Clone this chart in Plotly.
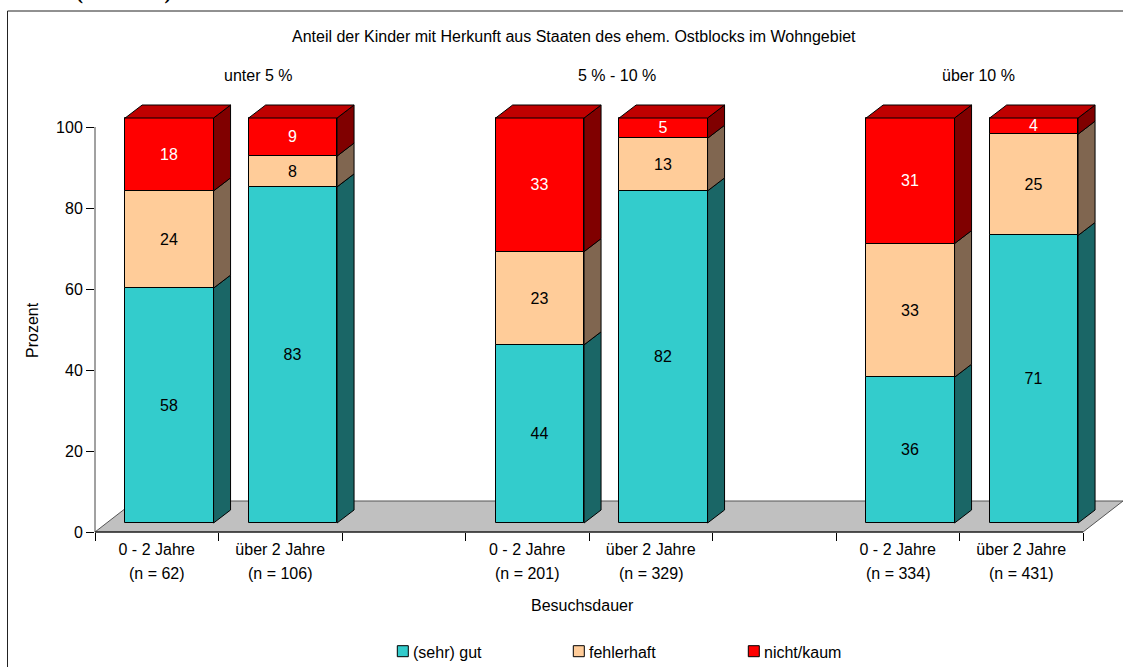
import plotly.graph_objects as go

slots = [0, 1, 3, 4, 6, 7]
durations = ["0 - 2 Jahre", "über 2 Jahre", "0 - 2 Jahre", "über 2 Jahre", "0 - 2 Jahre", "über 2 Jahre"]
sample_sizes = ["(n = 62)", "(n = 106)", "(n = 201)", "(n = 329)", "(n = 334)", "(n = 431)"]
groups = ["unter 5 %", "5 % - 10 %", "über 10 %"]
sehr_gut = [58, 83, 44, 82, 36, 71]
fehlerhaft = [24, 7.6, 23, 13, 33, 25]
nicht_kaum = [18, 9.4, 33, 5, 31, 4]

W, H = 1123, 667
AX_L, AX_R, AX_T, AX_B = 95, 1083, 127, 532   # pixel box of the 0-8 / 0-100 axes
TOP = 100                                     # plot area reaches above it for the 3D depth
FS = 16
FONT = "Liberation Sans, Arial, sans-serif"

X_PX, Y_PX = (AX_R - AX_L) / 8, (AX_B - AX_T) / 100
XMAX, YMAX = (W - AX_L) / X_PX, (AX_B - TOP) / Y_PX
PW, PH = W - AX_L, AX_B - TOP

# pseudo-3D projection, in axis units
FRONT_DX, FRONT_DY = 12.6 / X_PX, 9.0 / Y_PX
DEPTH_DX, DEPTH_DY = 17 / X_PX, 13 / Y_PX
BAR_W = 88.4 / X_PX

series = [
    ("(sehr) gut", sehr_gut, "#33CCCC", "#1A6666", "black", 397.3),
    ("fehlerhaft", fehlerhaft, "#FFCC99", "#806650", "black", 573.3),
    ("nicht/kaum", nicht_kaum, "#FF0000", "#800000", "white", 748.3),
]

def px(x):
    return (x - AX_L) / PW

def py(y):
    return (AX_B - y) / PH

fig = go.Figure()
base = [0] * len(slots)
centers = [s + 0.5 for s in slots]
for name, vals, col, side, tcol, _ in series:
    fig.add_trace(go.Bar(
        x=[c + FRONT_DX for c in centers], y=vals,
        base=[b + FRONT_DY for b in base], width=BAR_W, name=name,
        marker=dict(color=col, line=dict(color="black", width=1)),
        text=[str(round(v)) for v in vals], textposition="inside", insidetextanchor="middle",
        textangle=0, constraintext="none",
        insidetextfont=dict(family=FONT, size=FS, color=tcol),
    ))
    sx, sy = [], []
    for c, b, v in zip(centers, base, vals):
        x1 = c + FRONT_DX + BAR_W / 2
        y0, y1 = b + FRONT_DY, b + v + FRONT_DY
        sx += [x1, x1 + DEPTH_DX, x1 + DEPTH_DX, x1, x1, None]
        sy += [y0, y0 + DEPTH_DY, y1 + DEPTH_DY, y1, y0, None]
    fig.add_trace(go.Scatter(x=sx, y=sy, mode="lines", fill="toself", fillcolor=side,
                             line=dict(color="black", width=1), showlegend=False,
                             hoverinfo="skip"))
    base = [b + v for b, v in zip(base, vals)]

tx, ty = [], []
for c, b in zip(centers, base):
    x0 = c + FRONT_DX - BAR_W / 2
    x1 = c + FRONT_DX + BAR_W / 2
    y0 = b + FRONT_DY
    tx += [x0, x1, x1 + DEPTH_DX, x0 + DEPTH_DX, x0, None]
    ty += [y0, y0, y0 + DEPTH_DY, y0 + DEPTH_DY, y0, None]
fig.add_trace(go.Scatter(x=tx, y=ty, mode="lines", fill="toself", fillcolor="#BF0000",
                         line=dict(color="black", width=1), showlegend=False,
                         hoverinfo="skip"))

fx, fy = px(AX_R), py(AX_T)
fdx, fdy = 40 / PW, 31 / PH
shapes = [
    dict(type="rect", xref="paper", yref="paper", layer="below",
         x0=px(7.5), x1=px(1140), y0=py(690), y1=py(11),
         line=dict(color="#222222", width=1), fillcolor="white"),
    dict(type="path", xref="paper", yref="paper", layer="below",
         path=f"M 0 0 L {fx} 0 L {fx+fdx} {fdy} L {fdx} {fdy} Z",
         fillcolor="#C0C0C0", line=dict(color="#555555", width=1)),
    dict(type="line", xref="paper", yref="paper", x0=0, x1=fx, y0=0, y1=0,
         line=dict(color="black", width=1)),
    dict(type="line", xref="paper", yref="paper", x0=0, x1=0, y0=0, y1=fy,
         line=dict(color="#444444", width=1)),
]

def label(text, x, y, anchor="center", **kw):
    return dict(text=text, xref="paper", yref="paper", x=px(x), y=py(y), showarrow=False,
                xanchor=anchor, yanchor="middle",
                font=dict(family=FONT, size=FS, color="black"), **kw)

anns = [
    label("Anteil der Kinder mit Herkunft aus Staaten des ehem. Ostblocks im Wohngebiet", 574, 36),
    label(groups[0], 258, 76), label(groups[1], 617, 76), label(groups[2], 978, 76),
    label("Besuchsdauer", 582, 605),
    label("Prozent", 32, 330, textangle=-90),
]
for c, n in zip(centers, sample_sizes):
    anns.append(label(n, AX_L + c * X_PX, 573))
anns.append(dict(text="<b>in % (n = 1.463)</b>", xref="paper", yref="paper", x=px(25), y=py(6),
                 xanchor="left", yanchor="bottom", showarrow=False,
                 font=dict(family="Liberation Serif, serif", size=21, color="black")))

# legend row: swatch + text, colours and names taken from the series table
for name, _, col, _, _, sw_x in series:
    shapes.append(dict(type="rect", xref="paper", yref="paper", layer="above",
                       x0=px(sw_x), x1=px(sw_x + 11), y0=py(656.7), y1=py(645.7),
                       fillcolor=col, line=dict(color="black", width=1)))
    anns.append(label(name, sw_x + 14, 652, anchor="left"))

fig.update_layout(
    width=W, height=H, margin=dict(l=AX_L, r=0, t=TOP, b=H - AX_B, autoexpand=False),
    paper_bgcolor="white", plot_bgcolor="rgba(0,0,0,0)", barmode="overlay", bargap=0,
    shapes=shapes, annotations=anns, showlegend=False,
    font=dict(family=FONT, size=FS, color="black"),
    xaxis=dict(range=[0, XMAX], showgrid=False, zeroline=False, showline=False,
               tickmode="array", tickvals=centers, ticktext=durations, ticks="", ticklen=0,
               ticklabelstandoff=6,
               tickfont=dict(family=FONT, size=FS), tickangle=0,
               minor=dict(tickmode="array", tickvals=list(range(9)), ticks="outside", ticklen=8,
                          tickcolor="black", tickwidth=1, showgrid=False)),
    yaxis=dict(range=[0, YMAX], showgrid=False, zeroline=False, showline=False,
               tickmode="array", tickvals=[0, 20, 40, 60, 80, 100], ticks="outside", ticklen=8,
               tickcolor="black", tickfont=dict(family=FONT, size=FS)),
)
fig.write_html("out.html", config={"displayModeBar": False},
               post_script="document.body.style.margin='0';")
